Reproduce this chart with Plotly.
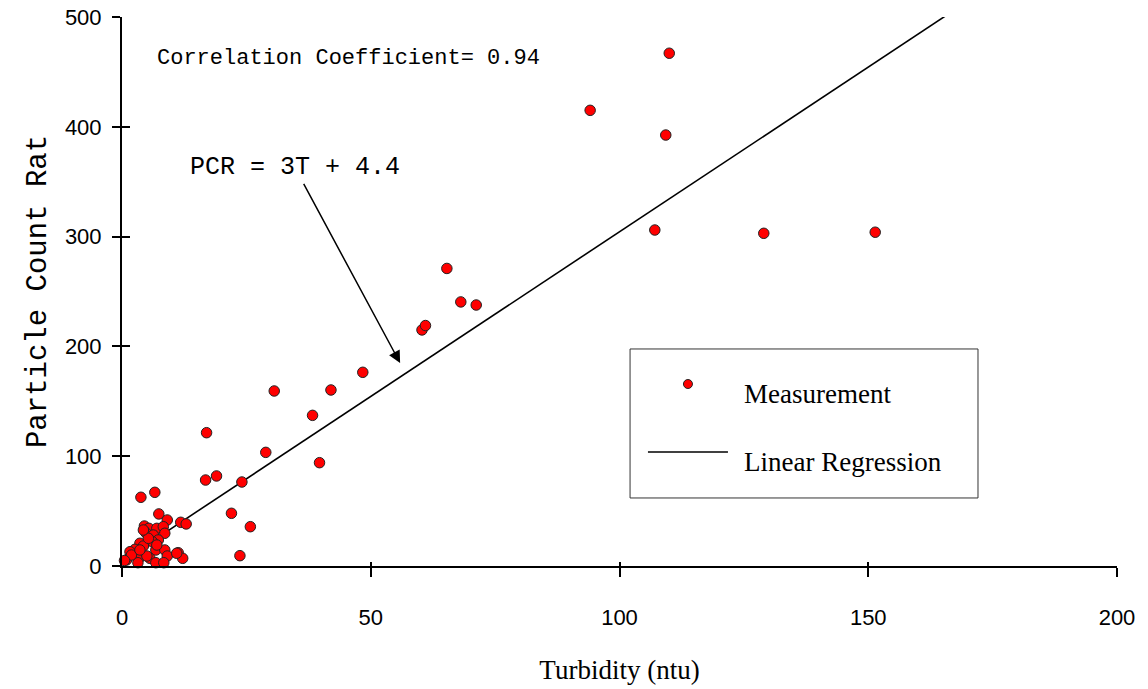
import plotly.graph_objects as go

# Measurements: turbidity (ntu) vs particle count rate
turbidity = [110.0, 94.1, 109.3, 107.1, 129.0, 151.4, 65.3, 68.1, 71.2, 60.3, 61.0,
             48.4, 30.6, 42.0, 38.3, 17.0, 28.9, 39.7, 16.8, 19.0, 24.1,
             3.8, 6.6, 22.0, 25.8, 23.7, 7.4, 9.1, 11.8, 12.9, 4.5, 5.4, 7.0, 8.3,
             8.6, 4.8, 6.3, 7.3, 6.1, 3.6, 4.3, 2.6, 1.6, 6.8, 8.6, 11.3, 12.2,
             9.1, 5.6, 3.3, 0.9, 3.2, 6.8, 8.4, 1.9, 5.0, 3.6, 5.3, 7.0, 0.5,
             11.0, 4.3]
particle_rate = [467, 415, 392.5, 306, 303, 304, 271, 240.5, 237.7, 215, 219,
                 176.4, 159.4, 160.3, 137.2, 121.4, 103.5, 94.1, 78.3, 82, 76.5,
                 62.6, 67.1, 48, 35.8, 9.4, 47.4, 41.9, 39.8, 38.3, 36.4, 34.3, 34.3, 35.8,
                 29.8, 30.3, 28.2, 23.7, 22.1, 20.7, 18.2, 15.2, 13, 14.6, 14.6, 12.1, 7,
                 9.1, 7, 6.1, 5.5, 3, 3, 3, 10, 9.1, 14.6, 25.2, 19.1, 5,
                 11.6, 32.8]

# Linear regression PCR = 3 T + 4.4
slope = 3.0
intercept = 4.4
reg_x = [8.0, 167.0]
reg_y = [slope * v + intercept for v in reg_x]

x_ticks = [0, 50, 100, 150, 200]
y_ticks = [0, 100, 200, 300, 400, 500]

fig = go.Figure()
fig.add_trace(go.Scatter(x=reg_x, y=reg_y, mode="lines",
                         line=dict(color="black", width=1.6),
                         name="Linear Regression", showlegend=False))
fig.add_trace(go.Scatter(x=turbidity, y=particle_rate, mode="markers",
                         marker=dict(color="#ff0000", size=10.5,
                                     line=dict(color="#222222", width=1)),
                         cliponaxis=False,
                         name="Measurement", showlegend=False))

tick_font = dict(family="Liberation Sans Narrow, Arial Narrow, Liberation Sans", size=22, color="black")

fig.update_layout(
    width=1148, height=689,
    margin=dict(l=122, r=31, t=17, b=123),
    paper_bgcolor="white", plot_bgcolor="white",
    showlegend=False,
    xaxis=dict(range=[0, 200], tickvals=x_ticks, showgrid=False, zeroline=False,
               automargin=False,
               showline=True, linecolor="black", linewidth=2,
               ticks="outside", ticklen=9, tickwidth=1.5, tickcolor="black",
               tickfont=tick_font, ticklabelstandoff=22,
               title=dict(text="Turbidity (ntu)", standoff=31,
                          font=dict(family="Liberation Serif", size=27, color="black"))),
    yaxis=dict(range=[0, 500], tickvals=y_ticks, showgrid=False, zeroline=False,
               automargin=False,
               showline=True, linecolor="black", linewidth=2,
               ticks="outside", ticklen=8, tickwidth=1.5, tickcolor="black",
               tickfont=tick_font, ticklabelstandoff=6,
               title=dict(text="Particle Count Rat", standoff=10,
                          font=dict(family="Liberation Mono", size=29, color="black"))),
    xaxis2=dict(range=[0, 200], tickvals=x_ticks, overlaying="x", side="bottom",
                automargin=False,
                showgrid=False, zeroline=False, showline=False, showticklabels=False,
                ticks="inside", ticklen=4, tickwidth=1.5, tickcolor="black"),
    yaxis2=dict(range=[0, 500], tickvals=y_ticks, overlaying="y", side="left",
                automargin=False,
                showgrid=False, zeroline=False, showline=False, showticklabels=False,
                ticks="inside", ticklen=8, tickwidth=1.5, tickcolor="black"),
)

# invisible trace to activate overlay axes
fig.add_trace(go.Scatter(x=[None], y=[None], xaxis="x2", yaxis="y2", showlegend=False))

fig.add_annotation(x=6.63, y=462.5, xref="x", yref="y", text="Correlation Coefficient= 0.94",
                   showarrow=False, xanchor="left", yanchor="middle",
                   font=dict(family="Liberation Mono", size=22, color="black"))
fig.add_annotation(x=55.9, y=184.9, xref="x", yref="y", text="PCR = 3T + 4.4",
                   showarrow=True, ax=-105, ay=-195, arrowhead=2, arrowsize=1.6,
                   arrowwidth=1.5, arrowcolor="black",
                   font=dict(family="Liberation Mono", size=25, color="black"))

# Legend box (drawn manually)
fig.add_shape(type="rect", xref="paper", yref="paper", x0=0.5106, x1=0.8603, y0=0.1239, y1=0.3953,
              line=dict(color="#333333", width=1), fillcolor="rgba(0,0,0,0)")
fig.add_shape(type="circle", xref="paper", yref="paper", xsizemode="pixel", ysizemode="pixel",
              xanchor=0.5688, yanchor=0.3315, x0=-4.5, x1=4.5, y0=-4.5, y1=4.5,
              fillcolor="#ff0000", line=dict(color="#222222", width=1))
fig.add_shape(type="line", xref="paper", yref="paper", x0=0.5286, x1=0.6090, y0=0.2077, y1=0.2077,
              line=dict(color="black", width=1.6))
fig.add_annotation(x=0.6231, y=0.3133, xref="paper", yref="paper", text="Measurement",
                   showarrow=False, xanchor="left", yanchor="middle",
                   font=dict(family="Liberation Serif", size=27, color="black"))
fig.add_annotation(x=0.6231, y=0.1894, xref="paper", yref="paper", text="Linear Regression",
                   showarrow=False, xanchor="left", yanchor="middle",
                   font=dict(family="Liberation Serif", size=27, color="black"))

fig.write_html("out.html")
